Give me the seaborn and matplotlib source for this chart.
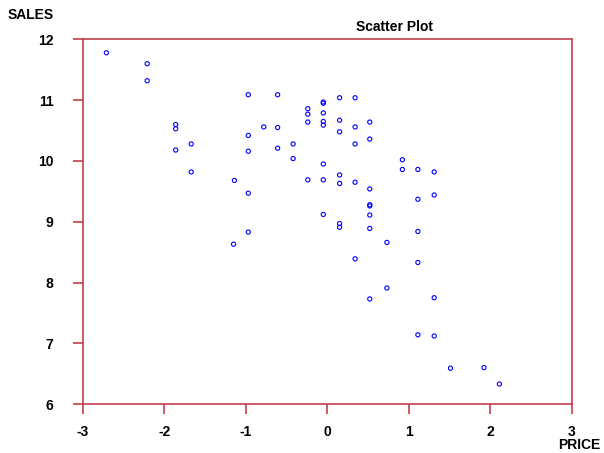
import matplotlib
matplotlib.use("Agg")
import matplotlib.pyplot as plt
import seaborn as sns
import pandas as pd

price = [-2.71, -2.21, -2.21, -0.97, -1.86, -1.86, -0.97, -1.67, -0.97, -1.86,
         -1.67, -1.14, -0.97, -0.61, 0.15, 0.34, -0.05, -0.05, -0.24, -0.24,
         -0.05, -0.24, -0.05, -0.05, 0.15, 0.34, 0.52, -0.78, -0.61, 0.15,
         0.52, 0.34, -0.42, -0.61, -0.42, -0.05, 0.15, -0.24, -0.05, 0.15,
         0.34, 0.52, 0.52, 0.52, 0.52, -0.05, 0.15, 0.15, 0.52, -0.97,
         -1.15, 0.73, 0.34, 0.92, 0.92, 1.11, 1.31, 1.31, 1.11, 1.11,
         1.11, 0.73, 0.52, 1.31, 1.11, 1.31, 1.51, 1.92, 2.11]
sales = [11.78, 11.60, 11.32, 11.09, 10.60, 10.53, 10.42, 10.28, 10.16, 10.18,
         9.82, 9.68, 9.47, 11.09, 11.04, 11.04, 10.97, 10.95, 10.86, 10.77,
         10.79, 10.64, 10.65, 10.59, 10.67, 10.56, 10.64, 10.56, 10.55, 10.48,
         10.36, 10.28, 10.28, 10.21, 10.04, 9.95, 9.77, 9.69, 9.69, 9.63,
         9.65, 9.54, 9.28, 9.26, 9.11, 9.12, 8.97, 8.91, 8.89, 8.83,
         8.63, 8.66, 8.39, 10.02, 9.86, 9.86, 9.82, 9.44, 9.37, 8.84,
         8.33, 7.91, 7.73, 7.75, 7.14, 7.12, 6.59, 6.60, 6.33]

x_ticks = [-3, -2, -1, 0, 1, 2, 3]
y_ticks = [6, 7, 8, 9, 10, 11, 12]

df = pd.DataFrame({"PRICE": price, "SALES": sales})

sns.set_style("white")
plt.rcParams['font.family'] = ['Liberation Sans', 'DejaVu Sans']
plt.rcParams['text.color'] = 'black'
plt.rcParams['xtick.labelcolor'] = 'black'
plt.rcParams['ytick.labelcolor'] = 'black'

spine_col = '#C4404E'
fig = plt.figure(figsize=(6.04, 4.53), dpi=100)
ax = fig.add_axes([0.137, 0.108, 0.810, 0.805])

sns.scatterplot(data=df, x="PRICE", y="SALES", ax=ax, marker='o', s=9,
                facecolor='none', edgecolor='#0000FF', linewidth=0.8)

ax.set_xlim(-3, 3)
ax.set_ylim(6, 12)
ax.set_xticks(x_ticks)
ax.set_yticks(y_ticks)
ax.set_xticklabels([str(t) for t in x_ticks], fontsize=10, fontweight='bold', color='black')
ax.set_yticklabels([str(t) for t in y_ticks], fontsize=10, fontweight='bold', color='black')
ax.tick_params(axis='both', direction='out', length=7, width=1.2,
               color=spine_col, bottom=True, left=True)
ax.tick_params(axis='x', pad=8)
ax.tick_params(axis='y', pad=14)
for s in ax.spines.values():
    s.set_color(spine_col)
    s.set_linewidth(1.2)
    s.set_visible(True)
ax.set_xlabel("")
ax.set_ylabel("")

fig.text(8/604, 1 - 15/453, "SALES", fontsize=10, fontweight='bold', va='center', ha='left', color='black')
fig.text(600/604, 1 - 445/453, "PRICE", fontsize=10, fontweight='bold', va='center', ha='right', color='black')
fig.text(395/604, 1 - 27/453, "Scatter Plot", fontsize=10, fontweight='bold', va='center', ha='center', color='black')

fig.savefig("out.png", dpi=100)
